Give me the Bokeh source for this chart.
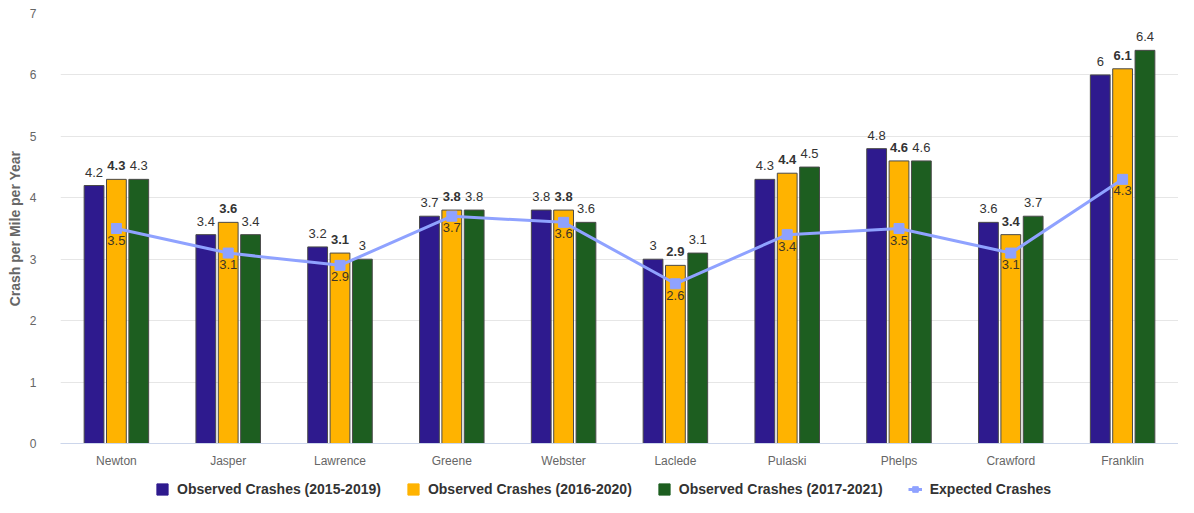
from bokeh.plotting import figure
from bokeh.layouts import column
from bokeh.models import ColumnDataSource, FixedTicker, Legend, LegendItem, Range1d
from bokeh.core.properties import value
from bokeh.embed import file_html
from bokeh.resources import INLINE

counties = ["Newton", "Jasper", "Lawrence", "Greene", "Webster", "Laclede", "Pulaski", "Phelps", "Crawford", "Franklin"]
obs_2015_2019 = [4.2, 3.4, 3.2, 3.7, 3.8, 3.0, 4.3, 4.8, 3.6, 6.0]
obs_2016_2020 = [4.3, 3.6, 3.1, 3.8, 3.8, 2.9, 4.4, 4.6, 3.4, 6.1]
obs_2017_2021 = [4.3, 3.4, 3.0, 3.8, 3.6, 3.1, 4.5, 4.6, 3.7, 6.4]
expected = [3.5, 3.1, 2.9, 3.7, 3.6, 2.6, 3.4, 3.5, 3.1, 4.3]
series_names = ["Observed Crashes (2015-2019)", "Observed Crashes (2016-2020)", "Observed Crashes (2017-2021)", "Expected Crashes"]
colors = ["#2e1a8e", "#ffb300", "#1d5e20", "#8fa2ff"]

FONT = "Liberation Sans"
W = 1178

def fmt(v):
    return ("%g" % v)

xs = list(range(len(counties)))

p = figure(width=W, height=470, output_backend="svg", toolbar_location=None,
           x_range=Range1d(-0.5, len(counties) - 0.5), y_range=Range1d(0, 7),
           min_border_left=60, min_border_right=0, min_border_top=13, min_border_bottom=27)
p.outline_line_color = None
p.background_fill_color = "white"

offsets = [-0.2, 0.0, 0.2]
series = [obs_2015_2019, obs_2016_2020, obs_2017_2021]
bar_renderers = []
for i, (vals, off) in enumerate(zip(series, offsets)):
    src = ColumnDataSource(dict(x=[x + off for x in xs], top=vals, lab=[fmt(v) for v in vals]))
    r = p.vbar(x="x", top="top", width=0.177, bottom=0, source=src,
               fill_color=colors[i], line_color="#4a4a4a", line_width=1)
    bar_renderers.append(r)
    p.text(x="x", y="top", text="lab", source=src, text_align="center", text_baseline="bottom",
           y_offset=-9, text_font=value(FONT), text_font_size="13px", text_color="#333333",
           text_font_style="bold" if i == 1 else "normal")

esrc = ColumnDataSource(dict(x=xs, y=expected, lab=[fmt(v) for v in expected]))
ln = p.line(x="x", y="y", source=esrc, line_color=colors[3], line_width=3)
sc = p.scatter(x="x", y="y", source=esrc, marker="square", size=10, fill_color=colors[3], line_color=colors[3])
p.text(x="x", y="y", text="lab", source=esrc, text_align="center", text_baseline="top",
       y_offset=7, text_font=value(FONT), text_font_size="13px", text_color="#3d3526")

# axes
p.xaxis.ticker = FixedTicker(ticks=xs)
p.xaxis.major_label_overrides = {i: c for i, c in enumerate(counties)}
p.xaxis.major_tick_line_color = None
p.xaxis.major_tick_out = 0
p.xaxis.major_tick_in = 0
p.xaxis.minor_tick_line_color = None
p.xaxis.axis_line_color = "#ccd6eb"
p.xaxis.major_label_text_font = FONT
p.xaxis.major_label_text_font_size = "12px"
p.xaxis.major_label_text_color = "#666666"
p.xaxis.major_label_standoff = 10

p.yaxis.ticker = FixedTicker(ticks=list(range(0, 8)))
p.yaxis.axis_line_color = None
p.yaxis.major_tick_line_color = None
p.yaxis.minor_tick_line_color = None
p.yaxis.major_label_text_font = FONT
p.yaxis.major_label_text_font_size = "12px"
p.yaxis.major_label_text_color = "#666666"
p.yaxis.major_label_standoff = 18
p.yaxis.axis_label = "Crash per Mile per Year"
p.yaxis.axis_label_text_font = FONT
p.yaxis.axis_label_text_font_size = "14px"
p.yaxis.axis_label_text_font_style = "bold"
p.yaxis.axis_label_text_color = "#666666"
p.yaxis.axis_label_standoff = 4

p.xgrid.grid_line_color = None
p.ygrid.grid_line_color = "#e6e6e6"

# legend strip (frame is aligned with the main plot's frame)
lg = figure(width=W, height=27, output_backend="svg", toolbar_location=None,
            x_range=Range1d(0, 1), y_range=Range1d(0, 1),
            min_border=0, min_border_left=0, min_border_right=0, min_border_top=0, min_border_bottom=0)
lg.axis.visible = False
lg.grid.visible = False
lg.outline_line_color = None
lrs = []
for i in range(3):
    lrs.append(lg.vbar(x=[-10], top=[0], width=0.1, fill_color=colors[i], line_color=colors[i]))
l_ln = lg.line(x=[-10, -9], y=[0, 0], line_color=colors[3], line_width=3)
l_sc = lg.scatter(x=[-10], y=[0], marker="square", size=8, fill_color=colors[3], line_color=colors[3])
items = [LegendItem(label=series_names[i], renderers=[lrs[i]]) for i in range(3)]
items.append(LegendItem(label=series_names[3], renderers=[l_ln, l_sc]))
legend = Legend(items=items, orientation="horizontal", location=(95, 0),
                label_text_font=FONT, label_text_font_size="14px", label_text_font_style="bold",
                label_text_color="#333333", glyph_width=14, glyph_height=14, spacing=25,
                label_standoff=8, border_line_color=None, background_fill_alpha=0,
                padding=2, margin=0)
lg.add_layout(legend, "center")

layout = column(p, lg, spacing=0)
open("out.html", "w").write(file_html(layout, INLINE))
